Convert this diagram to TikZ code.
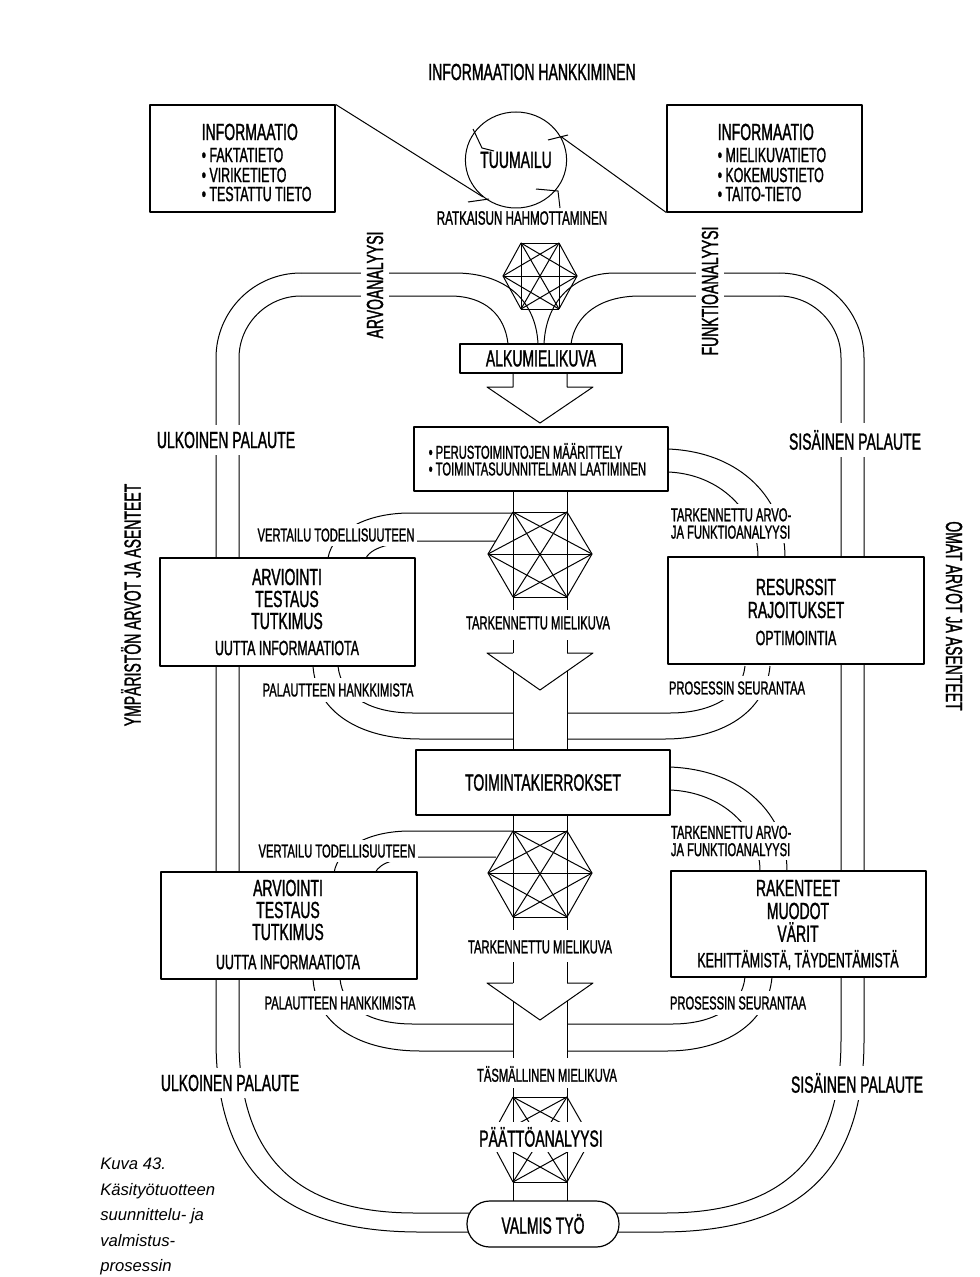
\documentclass[tikz,border=0pt]{standalone}
\usepackage{fontspec}
\setmainfont{Liberation Sans}[FakeStretch=0.6,FakeBold=1.2]
\newfontfamily\capfont{Liberation Sans}
\usetikzlibrary{shapes.geometric}
\tikzset{
  ln/.style={line width=0.75pt},
  bx/.style={draw, line width=0.9pt, fill=white, inner sep=0pt},
  lab/.style={fill=white, inner sep=2pt},
  sm/.style={font=\fontsize{14}{13}\selectfont},
  md/.style={font=\fontsize{15.5}{18}\selectfont},
  bg/.style={font=\fontsize{17.5}{20}\selectfont},
}
\newcommand\drawksix[1]{%
  \foreach \i in {1,...,5}{%
    \pgfmathtruncatemacro\ii{\i+1}%
    \foreach \j in {\ii,...,6}{\draw[ln] (#1-\i) -- (#1-\j);}}}
\begin{document}
\begin{tikzpicture}[x=0.75pt,y=-0.75pt,line join=round]
\fill[white] (0,0) rectangle (980,1277);
\useasboundingbox (0,0) rectangle (980,1277);

% ---------- big outer loop ----------
\draw[ln] (301,273) .. controls (254,273) and (216,311) .. (216,358) -- (216,1040)
  .. controls (216,1180) and (290,1232) .. (420,1232) -- (490,1232);
\draw[ln] (301,296) .. controls (267,296) and (239,324) .. (239,358) -- (239,1040)
  .. controls (239,1165) and (305,1213) .. (415,1213) -- (490,1213);
\draw[ln] (779,273) .. controls (826,273) and (864,311) .. (864,358) -- (864,1040)
  .. controls (864,1180) and (790,1232) .. (660,1232) -- (600,1232);
\draw[ln] (779,296) .. controls (813,296) and (841,324) .. (841,358) -- (841,1040)
  .. controls (841,1165) and (775,1213) .. (665,1213) -- (600,1213);
% top channels into ALKUMIELIKUVA
\draw[ln] (301,273) -- (455,273) .. controls (505,273) and (536,300) .. (538,344);
\draw[ln] (301,296) -- (450,296) .. controls (485,296) and (505,315) .. (508,344);
\draw[ln] (544,344) .. controls (546,300) and (575,273) .. (615,273) -- (779,273);
\draw[ln] (571,344) .. controls (575,315) and (600,296) .. (640,296) -- (779,296);

% ---------- central pipe ----------
\draw[ln] (513,373) -- (513,387) -- (487,387) -- (540,423) -- (593,387) -- (567,387) -- (567,373);
\draw[ln] (513,491) -- (513,610); \draw[ln] (567,491) -- (567,610);
\draw[ln] (513,640) -- (513,653); \draw[ln] (567,640) -- (567,653);
\fill[white] (487,653) -- (593,653) -- (540,690) -- cycle;
\draw[ln] (513,653) -- (487,653) -- (540,690) -- (593,653) -- (567,653);
\draw[ln] (513,671) -- (513,750); \draw[ln] (567,671) -- (567,750);
\draw[ln] (513,815) -- (513,930); \draw[ln] (567,815) -- (567,930);
\draw[ln] (513,962) -- (513,983); \draw[ln] (567,962) -- (567,983);
\fill[white] (487,983) -- (593,983) -- (540,1020) -- cycle;
\draw[ln] (513,983) -- (487,983) -- (540,1020) -- (593,983) -- (567,983);
\draw[ln] (513,1001) -- (513,1058); \draw[ln] (567,1001) -- (567,1058);
\draw[ln] (513,1088) -- (513,1201); \draw[ln] (567,1088) -- (567,1201);

% ---------- side channels, section 1 ----------
\draw[ln] (513,513) -- (410,513) .. controls (368,513) and (333,530) .. (328,558);
\draw[ln] (496,541) -- (428,541) .. controls (398,541) and (372,546) .. (366,558);
\draw[ln] (313,666) .. controls (316,712) and (360,739) .. (420,739) -- (513,739);
\draw[ln] (338,666) .. controls (341,697) and (372,713) .. (413,713) -- (513,713);
\draw[ln] (668,449) .. controls (742,452) and (785,500) .. (785,557);
\draw[ln] (668,472) .. controls (720,474) and (758,512) .. (758,557);
\draw[ln] (770,666) .. controls (766,712) and (722,739) .. (665,739) -- (567,739);
\draw[ln] (745,666) .. controls (742,697) and (710,713) .. (670,713) -- (567,713);
% ---------- side channels, section 2 ----------
\draw[ln] (513,831) -- (410,831) .. controls (368,831) and (338,848) .. (334,873);
\draw[ln] (496,857) -- (428,857) .. controls (398,857) and (380,862) .. (375,873);
\draw[ln] (313,979) .. controls (316,1025) and (360,1051) .. (420,1051) -- (513,1051);
\draw[ln] (340,979) .. controls (343,1009) and (372,1024) .. (413,1024) -- (513,1024);
\draw[ln] (670,767) .. controls (744,770) and (787,815) .. (787,871);
\draw[ln] (670,790) .. controls (722,792) and (760,828) .. (760,871);
\draw[ln] (772,977) .. controls (768,1024) and (724,1051) .. (667,1051) -- (567,1051);
\draw[ln] (745,977) .. controls (742,1008) and (712,1024) .. (672,1024) -- (567,1024);

% ---------- networks ----------
\coordinate (ha-1) at (503,276); \coordinate (ha-2) at (521,243); \coordinate (ha-3) at (559,243);
\coordinate (ha-4) at (577,276); \coordinate (ha-5) at (559,309); \coordinate (ha-6) at (521,309);
\drawksix{ha}
\coordinate (hb-1) at (488,554); \coordinate (hb-2) at (513,512); \coordinate (hb-3) at (567,512);
\coordinate (hb-4) at (592,554); \coordinate (hb-5) at (567,597); \coordinate (hb-6) at (513,597);
\drawksix{hb}
\coordinate (hc-1) at (488,873); \coordinate (hc-2) at (513,831); \coordinate (hc-3) at (567,831);
\coordinate (hc-4) at (592,873); \coordinate (hc-5) at (567,917); \coordinate (hc-6) at (513,917);
\drawksix{hc}
\coordinate (hd-1) at (490,1139); \coordinate (hd-2) at (513,1097); \coordinate (hd-3) at (567,1097);
\coordinate (hd-4) at (591,1139); \coordinate (hd-5) at (567,1182); \coordinate (hd-6) at (513,1182);
\drawksix{hd}

% ---------- information, circle ----------
\node[bx, minimum width=138.75pt, minimum height=80.25pt] (infoL) at (242.5,158.5) {};
\node[bx, minimum width=146.25pt, minimum height=80.25pt] (infoR) at (764.5,158.5) {};
\node[draw, ln, ellipse, minimum width=66pt, minimum height=72pt, inner sep=0pt, bg] (tuum) at (516,160) {TUUMAILU};
\draw[ln] (infoL.north east) -- (tuum.228);
\draw[ln] (tuum.28) -- (infoR.south west);
\draw[ln] (473,129) -- (482,148) -- (494,151);
\draw[ln] (468,202) -- (489,199);
\draw[ln] (548,140) -- (568,135);
\draw[ln] (536,189) -- (558,191) -- (560,208);

\node[bg, anchor=west] (iL1) at (197,132) {INFORMAATIO};
\node[md, anchor=west] (iL2) at (197,155) {• FAKTATIETO};
\node[md, anchor=west] (iL3) at (197,175) {• VIRIKETIETO};
\node[md, anchor=west] (iL4) at (197,194) {• TESTATTU TIETO};
\node[bg, anchor=west] (iR1) at (713,132) {INFORMAATIO};
\node[md, anchor=west] (iR2) at (713,155) {• MIELIKUVATIETO};
\node[md, anchor=west] (iR3) at (713,175) {• KOKEMUSTIETO};
\node[md, anchor=west] (iR4) at (713,194) {• TAITO-TIETO};

\node[bg] (title) at (532,72) {INFORMAATION HANKKIMINEN};
\node[font=\fontsize{14.5}{16}\selectfont] (ratk) at (522,218) {RATKAISUN HAHMOTTAMINEN};
\node[bg, lab, rotate=90, inner sep=4pt] (arvo) at (375,285) {ARVOANALYYSI};
\node[bg, lab, rotate=90, inner sep=4pt] (funk) at (710,291) {FUNKTIOANALYYSI};

% ---------- boxes ----------
\node[bx, minimum width=121.5pt, minimum height=21.75pt, bg] (alku) at (541,358.5) {ALKUMIELIKUVA};
\node[bx, minimum width=190.5pt, minimum height=48pt] (perus) at (541,459) {};
\node[sm, anchor=west] (p1) at (424,451) {• PERUSTOIMINTOJEN MÄÄRITTELY};
\node[sm, anchor=west] (p2) at (424,469) {• TOIMINTASUUNNITELMAN LAATIMINEN};
\node[bx, minimum width=191.25pt, minimum height=81pt] (arv1) at (287.5,612) {};
\node[bg] (a1) at (287,577) {ARVIOINTI};
\node[bg] (a2) at (287,599) {TESTAUS};
\node[bg] (a3) at (287,621) {TUTKIMUS};
\node[md] (a4) at (287,648) {UUTTA INFORMAATIOTA};
\node[bx, minimum width=192pt, minimum height=80.25pt] (res) at (796,610.5) {};
\node[bg] (r1) at (796,587) {RESURSSIT};
\node[bg] (r2) at (796,610) {RAJOITUKSET};
\node[md] (r3) at (796,638) {OPTIMOINTIA};
\node[bx, minimum width=190.5pt, minimum height=48.75pt, bg] (toim) at (543,782.5) {TOIMINTAKIERROKSET};
\node[bx, minimum width=192pt, minimum height=80.25pt] (arv2) at (289,925.5) {};
\node[bg] (b1) at (288,888) {ARVIOINTI};
\node[bg] (b2) at (288,910) {TESTAUS};
\node[bg] (b3) at (288,932) {TUTKIMUS};
\node[md] (b4) at (288,962) {UUTTA INFORMAATIOTA};
\node[bx, minimum width=191.25pt, minimum height=79.5pt] (rak) at (798.5,924) {};
\node[bg] (k1) at (798,888) {RAKENTEET};
\node[bg] (k2) at (798,911) {MUODOT};
\node[bg] (k3) at (798,932) {VÄRIT};
\node[md] (k4) at (798,960) {KEHITTÄMISTÄ, TÄYDENTÄMISTÄ};
\node[draw, line width=0.9pt, fill=white, rounded corners=17pt, minimum width=114pt, minimum height=34.5pt, bg] (valmis) at (543,1224) {VALMIS TYÖ};

% ---------- labels ----------
\node[bg, lab, inner ysep=5pt] (ulk1) at (226,440) {ULKOINEN PALAUTE};
\node[bg, lab, inner ysep=5pt] (ulk2) at (230,1083) {ULKOINEN PALAUTE};
\node[bg, lab, inner ysep=5pt] (sis1) at (855,440) {SISÄINEN PALAUTE};
\node[bg, lab, inner ysep=5pt] (sis2) at (857,1083) {SISÄINEN PALAUTE};
\node[sm, lab, inner ysep=3pt] (vert1) at (336,535) {VERTAILU TODELLISUUTEEN};
\node[sm, lab, inner ysep=3pt] (vert2) at (337,851) {VERTAILU TODELLISUUTEEN};
\node[sm, lab, inner ysep=4pt] (pal1) at (338,690) {PALAUTTEEN HANKKIMISTA};
\node[sm, lab, inner ysep=4pt] (pal2) at (340,1003) {PALAUTTEEN HANKKIMISTA};
\node[sm, lab, anchor=west, align=left, inner ysep=3pt] (tark1) at (668,523.5) {TARKENNETTU ARVO-\\JA FUNKTIOANALYYSI};
\node[sm, lab, anchor=west, align=left, inner ysep=3pt] (tark2) at (668,841) {TARKENNETTU ARVO-\\JA FUNKTIOANALYYSI};
\node[sm, lab, inner ysep=4pt] (pros1) at (737,688) {PROSESSIN SEURANTAA};
\node[sm, lab, inner ysep=4pt] (pros2) at (738,1003) {PROSESSIN SEURANTAA};
\node[sm, lab] (tm1) at (538,623) {TARKENNETTU MIELIKUVA};
\node[sm, lab] (tm2) at (540,947) {TARKENNETTU MIELIKUVA};
\node[sm, lab] (tas) at (547,1074) {TÄSMÄLLINEN MIELIKUVA};
\node[bg, lab, inner xsep=1pt, inner ysep=4pt] (paat) at (541,1137) {PÄÄTTÖANALYYSI};
\node[bg, rotate=90] (ymp) at (131,605) {YMPÄRISTÖN ARVOT JA ASENTEET};
\node[bg, rotate=-90] (omat) at (954,616) {OMAT ARVOT JA ASENTEET};

\node[anchor=north west, align=left, inner sep=0pt, font=\capfont\itshape\fontsize{12.5}{19.1}\selectfont] (cap) at (100,1158)
  {Kuva 43.\\Käsityötuotteen\\suunnittelu- ja\\valmistus-\\prosessin};
\end{tikzpicture}
\end{document}
